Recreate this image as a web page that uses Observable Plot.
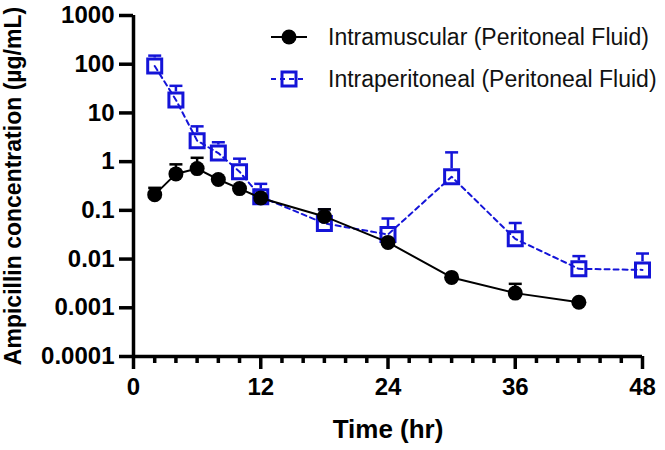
<!DOCTYPE html>
<html>
<head>
<meta charset="utf-8">
<script src="https://cdn.jsdelivr.net/npm/d3@7"></script>
<script src="https://cdn.jsdelivr.net/npm/@observablehq/plot@0.6"></script>
<style>
  html, body { margin: 0; padding: 0; background: #fff; }
  #wrap { position: relative; width: 665px; height: 450px; font-family: "Liberation Sans", Arial, sans-serif; }
  #wrap svg.plot { position: absolute; left: 0; top: 0; }
  .leg { position: absolute; left: 270px; display: flex; align-items: center; font-size: 23px; color: #111; white-space: nowrap; }
  .leg span { margin-left: 20px; }
</style>
</head>
<body>
<div id="wrap"></div>
<script>
// ---- data ----
const seriesNames = ["Intramuscular (Peritoneal Fluid)", "Intraperitoneal (Peritoneal Fluid)"];
const timeHr = [2, 4, 6, 8, 10, 12, 18, 24, 30, 36, 42, 48];
const imConc  = [0.21, 0.56, 0.72, 0.43, 0.28, 0.18, 0.075, 0.022, 0.0042, 0.0020, 0.0013];
const imUpper = [0.29, 0.88, 1.2, null, null, null, 0.105, null, null, 0.0031, null];
const ipConc  = [92, 18.5, 2.7, 1.5, 0.62, 0.19, 0.054, 0.032, 0.49, 0.026, 0.0063, 0.006];
const ipUpper = [150, 36, 5.3, 2.5, 1.15, 0.35, 0.105, 0.068, 1.55, 0.055, 0.0115, 0.013];
const xTicks = [0, 12, 24, 36, 48];
const xMinorTicks = [2, 4, 6, 8, 10, 14, 16, 18, 20, 22, 26, 28, 30, 32, 34, 38, 40, 42, 44, 46];
const yTicks = [0.0001, 0.001, 0.01, 0.1, 1, 10, 100, 1000];
const yTickLabels = ["0.0001", "0.001", "0.01", "0.1", "1", "10", "100", "1000"];
const xTitle = "Time (hr)";
const yTitle = "Ampicillin concentration (µg/mL)";

const blue = "#1414d8";
const im = imConc.map((v, i) => ({t: timeHr[i], v, hi: imUpper[i]}));
const ip = ipConc.map((v, i) => ({t: timeHr[i], v, hi: ipUpper[i]}));
const imErr = im.filter(d => d.hi != null);
const ipErr = ip.filter(d => d.hi != null);

// horizontal-line symbol for error bar caps
const capSymbol = {
  draw(context, size) {
    const r = Math.sqrt(size / Math.PI);
    context.moveTo(-r, 0);
    context.lineTo(r, 0);
  }
};

const chart = Plot.plot({
  width: 665,
  height: 450,
  marginLeft: 133,
  marginRight: 23,
  marginTop: 15,
  marginBottom: 94,
  style: {fontFamily: "Liberation Sans, Arial, sans-serif", fontWeight: "bold", color: "#000", background: "transparent"},
  x: {domain: [0, 48], label: null},
  y: {type: "log", domain: [0.0001, 1000], label: null},
  marks: [
    // axes
    Plot.axisY({ticks: yTicks, tickFormat: d => yTickLabels[yTicks.indexOf(d)], tickSize: 14, tickPadding: 5, fontSize: 24, strokeWidth: 3.5, label: null}),
    Plot.axisX({ticks: xTicks, tickSize: 13, tickPadding: 8, fontSize: 24, strokeWidth: 3.5, label: null}),
    Plot.axisX({ticks: xMinorTicks, tickSize: 7, tickFormat: () => "", strokeWidth: 3.5, label: null}),
    Plot.ruleX([0], {strokeWidth: 3.5}),
    Plot.ruleY([0.0001], {strokeWidth: 3.5}),
    Plot.text([xTitle], {text: d => d, frameAnchor: "bottom", dy: 73, fontSize: 26, fontWeight: "bold", lineAnchor: "middle"}),
    Plot.text([yTitle], {text: d => d, frameAnchor: "left", textAnchor: "middle", rotate: -90, dx: -120, fontSize: 23, fontWeight: "bold", lineAnchor: "middle"}),
    // intraperitoneal
    Plot.line(ip, {x: "t", y: "v", stroke: blue, strokeWidth: 2, strokeDasharray: "5,4"}),
    Plot.ruleX(ipErr, {x: "t", y1: "hi", y2: "v", stroke: blue, strokeWidth: 2.5, insetBottom: 8}),
    Plot.dot(ipErr, {x: "t", y: "hi", symbol: capSymbol, r: 6.5, stroke: blue, strokeWidth: 2.5, fill: "none"}),
    Plot.dot(ip, {x: "t", y: "v", symbol: "square", r: 7.9, stroke: blue, strokeWidth: 3, fill: "none"}),
    // intramuscular
    Plot.line(im, {x: "t", y: "v", stroke: "#000", strokeWidth: 2}),
    Plot.ruleX(imErr, {x: "t", y1: "hi", y2: "v", stroke: "#000", strokeWidth: 2.5}),
    Plot.dot(imErr, {x: "t", y: "hi", symbol: capSymbol, r: 6.5, stroke: "#000", strokeWidth: 2.5, fill: "none"}),
    Plot.dot(im, {x: "t", y: "v", r: 7.5, fill: "#000", stroke: "none"})
  ]
});
chart.classList.add("plot");
const wrap = document.getElementById("wrap");
wrap.appendChild(chart);

// legend (inside plot area, top right)
const legendRows = [
  {name: seriesNames[0], top: 37, swatch:
    `<svg width="38" height="20"><line x1="1" y1="10" x2="37" y2="10" stroke="#000" stroke-width="2"/><circle cx="19" cy="10" r="7.5" fill="#000"/></svg>`},
  {name: seriesNames[1], top: 79, swatch:
    `<svg width="38" height="20"><line x1="1" y1="10" x2="37" y2="10" stroke="${blue}" stroke-width="2" stroke-dasharray="5,4"/><rect x="12" y="3" width="14" height="14" fill="none" stroke="${blue}" stroke-width="3"/></svg>`}
];
for (const row of legendRows) {
  const div = document.createElement("div");
  div.className = "leg";
  div.style.top = (row.top - 14) + "px";
  div.style.height = "28px";
  div.innerHTML = row.swatch + `<span>${row.name}</span>`;
  wrap.appendChild(div);
}
</script>
</body>
</html>
